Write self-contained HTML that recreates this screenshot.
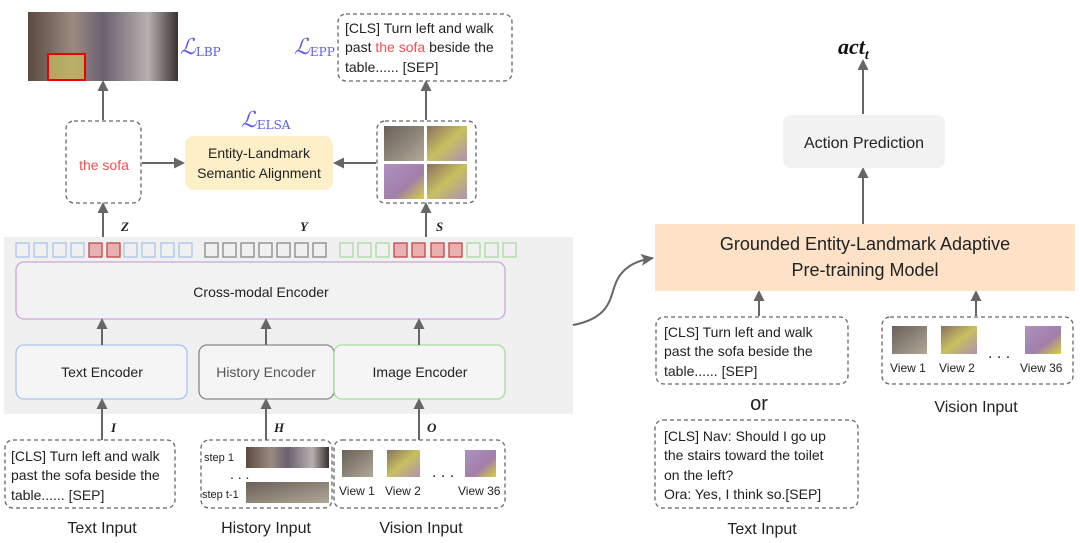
<!DOCTYPE html>
<html><head><meta charset="utf-8"><style>
html,body{margin:0;padding:0;background:#fff;width:1080px;height:543px;overflow:hidden}
svg text{font-family:"Liberation Sans",sans-serif;fill:#222}
.s{font-family:"Liberation Serif",serif;font-style:italic;font-weight:bold}
.l{font-family:"DejaVu Serif","Liberation Serif",serif;font-style:italic;fill:#5b5bf0}
</style></head><body>
<svg width="1080" height="543" viewBox="0 0 1080 543" xmlns="http://www.w3.org/2000/svg">
<defs>
<marker id="a" markerWidth="11" markerHeight="11" refX="8" refY="5.5" orient="auto" markerUnits="userSpaceOnUse"><path d="M0,0 L11,5.5 L0,11 z" fill="#666"/></marker>
<marker id="b" markerWidth="14" markerHeight="12" refX="12" refY="6" orient="auto" markerUnits="userSpaceOnUse"><path d="M0,0 L13,6 L0,12 L3,6z" fill="#666"/></marker>
<linearGradient id="g1" x1="0" x2="1"><stop offset="0" stop-color="#5a4a40"/><stop offset=".3" stop-color="#9a8a80"/><stop offset=".5" stop-color="#6b6070"/><stop offset=".8" stop-color="#b8b0b0"/><stop offset="1" stop-color="#3a3030"/></linearGradient>
<linearGradient id="g2" x1="0" y1="0" x2="1" y2="1"><stop offset="0" stop-color="#8a7060"/><stop offset=".5" stop-color="#c8c060"/><stop offset="1" stop-color="#b090b0"/></linearGradient>
<linearGradient id="g3" x1="0" y1="0" x2="1" y2="1"><stop offset="0" stop-color="#6a6058"/><stop offset="1" stop-color="#b0a898"/></linearGradient>
<linearGradient id="g4" x1="0" y1="0" x2="1" y2="1"><stop offset="0" stop-color="#b090c0"/><stop offset=".6" stop-color="#a080a8"/><stop offset="1" stop-color="#d8d040"/></linearGradient>
</defs>
<rect x="4" y="237" width="569" height="177" fill="#f0f0f0"/>
<g stroke-width="1.3">
<g fill="none" stroke="#a8c4ec">
<rect x="16" y="243" width="13" height="14"/><rect x="34" y="243" width="13" height="14"/><rect x="53" y="243" width="13" height="14"/><rect x="71" y="243" width="13" height="14"/>
<rect x="124" y="243" width="13" height="14"/><rect x="142" y="243" width="13" height="14"/><rect x="161" y="243" width="13" height="14"/><rect x="179" y="243" width="13" height="14"/></g>
<g fill="#e8b0b0" stroke="#c04848"><rect x="89" y="243" width="13" height="14"/><rect x="107" y="243" width="13" height="14"/>
<rect x="394" y="243" width="13" height="14"/><rect x="412" y="243" width="13" height="14"/><rect x="431" y="243" width="13" height="14"/><rect x="449" y="243" width="13" height="14"/></g>
<g fill="none" stroke="#888"><rect x="205" y="243" width="13" height="14"/><rect x="223" y="243" width="13" height="14"/><rect x="241" y="243" width="13" height="14"/><rect x="259" y="243" width="13" height="14"/><rect x="277" y="243" width="13" height="14"/><rect x="295" y="243" width="13" height="14"/><rect x="313" y="243" width="13" height="14"/></g>
<g fill="none" stroke="#a8dca0"><rect x="340" y="243" width="13" height="14"/><rect x="358" y="243" width="13" height="14"/><rect x="376" y="243" width="13" height="14"/><rect x="467" y="243" width="13" height="14"/><rect x="485" y="243" width="13" height="14"/><rect x="503" y="243" width="13" height="14"/></g>
</g>
<rect x="16" y="262" width="489" height="57" rx="8" fill="#f2f2f2" stroke="#c8a8d8" stroke-width="1.3"/>
<text x="261" y="297" font-size="14" text-anchor="middle">Cross-modal Encoder</text>
<rect x="16" y="345" width="171" height="54" rx="8" fill="#f5f5f5" stroke="#a8c4ec" stroke-width="1.3"/>
<text x="102" y="377" font-size="14" text-anchor="middle">Text Encoder</text>
<rect x="199" y="345" width="135" height="54" rx="8" fill="#f5f5f5" stroke="#888" stroke-width="1.3"/>
<text x="266" y="377" font-size="14" text-anchor="middle" style="fill:#555">History Encoder</text>
<rect x="334" y="345" width="171" height="54" rx="8" fill="#f5f5f5" stroke="#a8dca0" stroke-width="1.3"/>
<text x="420" y="377" font-size="14" text-anchor="middle">Image Encoder</text>
<g stroke="#666" stroke-width="2" fill="none" marker-end="url(#a)">
<line x1="102" y1="345" x2="102" y2="321"/><line x1="266" y1="345" x2="266" y2="321"/><line x1="419" y1="345" x2="419" y2="321"/>
<line x1="102" y1="440" x2="102" y2="401"/><line x1="266" y1="440" x2="266" y2="401"/><line x1="419" y1="440" x2="419" y2="401"/>
<line x1="103" y1="237" x2="103" y2="205"/><line x1="426" y1="237" x2="426" y2="205"/>
<line x1="103" y1="120" x2="103" y2="83"/><line x1="426" y1="120" x2="426" y2="83"/>
<line x1="142" y1="163" x2="182" y2="163"/><line x1="376" y1="163" x2="336" y2="163"/>
<line x1="863" y1="224" x2="863" y2="170"/><line x1="863" y1="114" x2="863" y2="62"/>
<line x1="759" y1="316" x2="759" y2="293"/><line x1="976" y1="316" x2="976" y2="293"/>
</g>
<path d="M573,325 C610,318 610,298 615,285 C622,265 640,260 653,258" stroke="#666" stroke-width="2" fill="none" marker-end="url(#b)"/>
<text class="s" x="121" y="231" font-size="13" style="fill:#222">Z</text>
<text class="s" x="300" y="231" font-size="13" style="fill:#222">Y</text>
<text class="s" x="436" y="231" font-size="13" style="fill:#222">S</text>
<text class="s" x="111" y="432" font-size="13" style="fill:#222">I</text>
<text class="s" x="274" y="432" font-size="13" style="fill:#222">H</text>
<text class="s" x="427" y="432" font-size="13" style="fill:#222">O</text>
<g fill="none" stroke="#666" stroke-width="1.3" stroke-dasharray="4,3">
<rect x="5" y="440" width="170" height="68" rx="8"/><rect x="201" y="440" width="131" height="68" rx="8"/><rect x="334" y="440" width="171" height="68" rx="8"/>
<rect x="66" y="121" width="75" height="82" rx="8"/><rect x="377" y="121" width="99" height="82" rx="8"/><rect x="338" y="14" width="174" height="67" rx="8"/>
<rect x="656" y="317" width="192" height="67" rx="8"/><rect x="655" y="420" width="203" height="88" rx="8"/><rect x="882" y="317" width="191" height="67" rx="8"/>
</g>
<g font-size="14"><text x="11" y="461">[CLS] Turn left and walk</text><text x="11" y="480">past the sofa beside the</text><text x="11" y="500">table...... [SEP]</text></g>
<text x="204" y="461" font-size="11">step 1</text><text x="202" y="498" font-size="11">step t-1</text>
<text x="230" y="479" font-size="14">. . .</text>
<rect x="246" y="447" width="83" height="21" fill="url(#g1)"/><rect x="246" y="482" width="83" height="21" fill="url(#g3)"/>
<rect x="342" y="450" width="31" height="27" fill="url(#g3)"/><rect x="387" y="450" width="33" height="27" fill="url(#g2)"/><rect x="465" y="450" width="31" height="27" fill="url(#g4)"/>
<text x="432" y="477" font-size="16">. . .</text>
<g font-size="12"><text x="339" y="495">View 1</text><text x="385" y="495">View 2</text><text x="458" y="495">View 36</text></g>
<g font-size="16" text-anchor="middle"><text x="102" y="533">Text Input</text><text x="266" y="533">History Input</text><text x="421" y="533">Vision Input</text></g>
<rect x="28" y="12" width="150" height="69" fill="url(#g1)"/>
<rect x="48" y="54" width="37" height="26" fill="#c8c060" opacity=".7"/>
<rect x="48" y="54" width="37" height="26" fill="none" stroke="#e00" stroke-width="2"/>
<text class="l" x="180" y="54" font-size="22">ℒ<tspan font-size="12" font-style="normal" dy="2">LBP</tspan></text>
<text class="l" x="294" y="54" font-size="22">ℒ<tspan font-size="12" font-style="normal" dy="2">EPP</tspan></text>
<text class="l" x="241" y="127" font-size="22">ℒ<tspan font-size="12" font-style="normal" dy="2">ELSA</tspan></text>
<g font-size="14"><text x="345" y="33">[CLS] Turn left and walk</text><text x="345" y="52">past <tspan style="fill:#f05050">the sofa</tspan> beside the</text><text x="345" y="72">table...... [SEP]</text></g>
<text x="104" y="170" font-size="14" text-anchor="middle" style="fill:#f05050">the sofa</text>
<rect x="185" y="136" width="148" height="54" rx="9" fill="#fdefc8"/>
<text x="259" y="158" font-size="14" text-anchor="middle">Entity-Landmark</text>
<text x="259" y="178" font-size="14" text-anchor="middle">Semantic Alignment</text>
<rect x="384" y="126" width="40" height="35" fill="url(#g3)"/><rect x="427" y="126" width="40" height="35" fill="url(#g2)"/>
<rect x="384" y="164" width="40" height="35" fill="url(#g4)"/><rect x="427" y="164" width="40" height="35" fill="url(#g2)"/>
<rect x="655" y="224" width="420" height="67" fill="#fde2c8"/>
<text x="865" y="250" font-size="18" text-anchor="middle">Grounded Entity-Landmark Adaptive</text>
<text x="865" y="276" font-size="18" text-anchor="middle">Pre-training Model</text>
<rect x="783" y="115" width="162" height="53" rx="8" fill="#f2f2f2"/>
<text x="864" y="148" font-size="16" text-anchor="middle">Action Prediction</text>
<text class="s" x="838" y="54" font-size="22" style="fill:#111">act<tspan font-size="14" dy="5">t</tspan></text>
<g font-size="14"><text x="664" y="337">[CLS] Turn left and walk</text><text x="664" y="356">past the sofa beside the</text><text x="664" y="376">table...... [SEP]</text></g>
<text x="759" y="410" font-size="20" text-anchor="middle">or</text>
<g font-size="14"><text x="664" y="441">[CLS] Nav: Should I go up</text><text x="664" y="460">the stairs toward the toilet</text><text x="664" y="480">on the left?</text><text x="664" y="499">Ora: Yes, I think so.[SEP]</text></g>
<text x="762" y="534" font-size="16" text-anchor="middle">Text Input</text>
<rect x="892" y="326" width="35" height="28" fill="url(#g3)"/><rect x="941" y="326" width="36" height="28" fill="url(#g2)"/><rect x="1025" y="326" width="36" height="28" fill="url(#g4)"/>
<text x="988" y="358" font-size="16">. . .</text>
<g font-size="12"><text x="890" y="372">View 1</text><text x="939" y="372">View 2</text><text x="1020" y="372">View 36</text></g>
<text x="976" y="412" font-size="16" text-anchor="middle">Vision Input</text>
</svg>
</body></html>
